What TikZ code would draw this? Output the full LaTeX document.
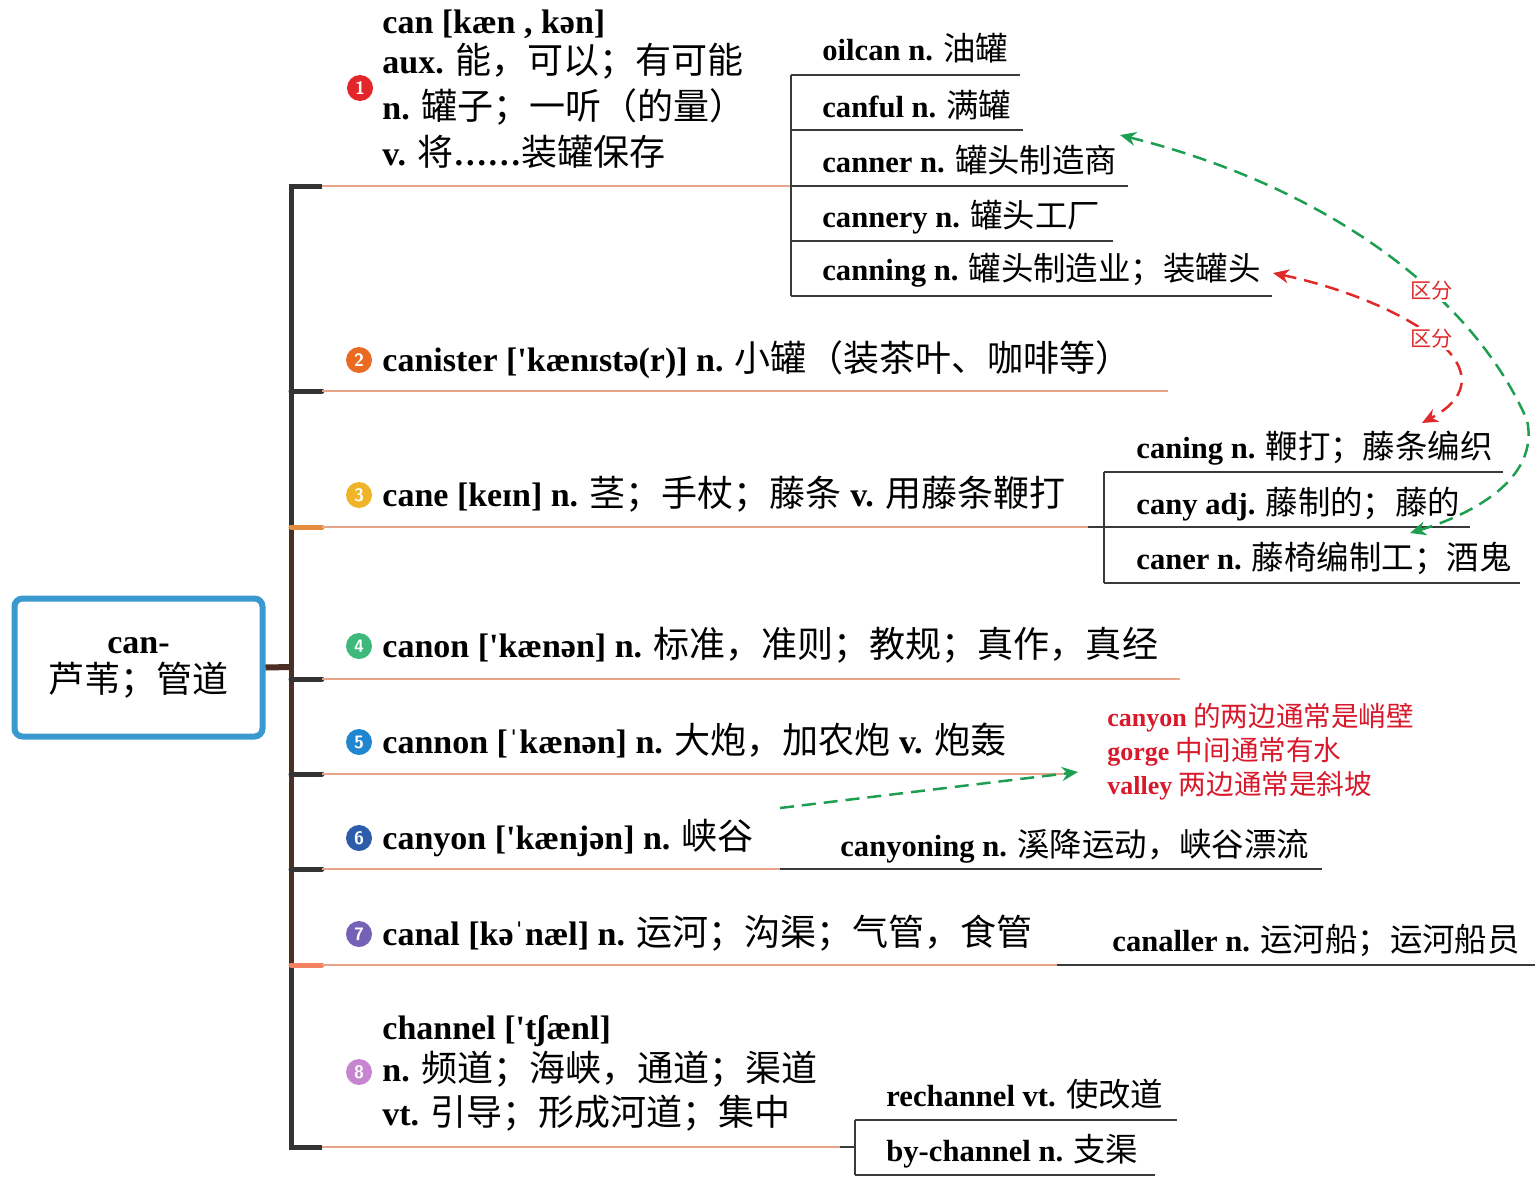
\documentclass[tikz,border=0pt]{standalone}
\usepackage{fontspec}
\setmainfont{Liberation Serif}[Ligatures=TeXOff]
\newfontfamily\cjk{Noto Sans CJK SC}[Scale=1.06]
\usetikzlibrary{arrows.meta}

\newcommand\zh[1]{{\cjk #1}}

\definecolor{trunkgray}{HTML}{333333}
\definecolor{trunkbrown}{HTML}{4B2E24}
\definecolor{twigsalmon}{HTML}{E8A58C}
\definecolor{subgray}{HTML}{3A3A3A}
\definecolor{boxblue}{HTML}{3A9AD0}
\definecolor{notered}{HTML}{D7192B}
\definecolor{linkgreen}{HTML}{1E9E50}
\definecolor{linkred}{HTML}{E02A2A}
\definecolor{bOne}{HTML}{E3262A}
\definecolor{bTwo}{HTML}{EA6A22}
\definecolor{bThree}{HTML}{F0B429}
\definecolor{bFour}{HTML}{3DB97C}
\definecolor{bFive}{HTML}{1F86CF}
\definecolor{bSix}{HTML}{2D5DAA}
\definecolor{bSeven}{HTML}{7561B5}
\definecolor{bEight}{HTML}{C685CF}
\definecolor{stubThree}{HTML}{E58C3C}
\definecolor{stubSeven}{HTML}{F28262}

\begin{document}
\begin{tikzpicture}[x=0.5pt,y=-0.5pt,
    entry/.style={anchor=base west,inner sep=0pt,font=\fontsize{17}{20}\selectfont},
    subentry/.style={anchor=base west,inner sep=0pt,font=\fontsize{15.3}{18}\selectfont},
    note/.style={anchor=base west,inner sep=0pt,text=notered,font=\fontsize{13}{16}\selectfont},
    badge/.style={circle,fill=#1,text=white,inner sep=0pt,minimum size=13pt,
        font=\fontsize{9}{9}\selectfont\sffamily\bfseries},
    trunk/.style={line width=2.5pt,draw=#1},
    stub/.style={line width=2.5pt,draw=#1,line cap=round},
    twig/.style={line width=0.9pt,draw=twigsalmon},
    subline/.style={line width=0.9pt,draw=subgray},
    hint/.style={draw=#1,dash pattern=on 7pt off 4pt,line width=1.25pt},
    pair/.style={fill=white,inner sep=1pt,text=linkred,font=\fontsize{10}{10}\selectfont\cjk}]

    \useasboundingbox (0,0) rectangle (1536,1183);

    % racine
    \node[draw=boxblue,line width=3pt,rounded corners=4pt,minimum width=124pt,
          minimum height=69pt,align=center,font=\fontsize{17}{19.5}\selectfont]
        (root) at (138.5,667.5) {\textbf{can-}\\\zh{芦苇；管道}};

    % tronc
    \foreach \n/\y in {1/186,2/391,3/527,4/679,5/774,6/869,7/965,8/1147}{
        \coordinate (t\n) at (291,\y);
        \coordinate (s\n) at (322,\y);
    }
    \coordinate (tr) at (291,667);
    \draw[trunk=trunkgray,line join=miter] (s1) -- (t1) -- (t8) -- (s8);
    \draw[trunk=trunkbrown] (t3) -- (t7);
    \draw[line width=3pt,draw=trunkbrown] (root.east) -- (tr);

    \draw[stub=trunkgray] (t2) -- (s2);
    \draw[stub=stubThree] (t3) -- (s3);
    \draw[stub=trunkgray] (t4) -- (s4);
    \draw[stub=trunkgray] (t5) -- (s5);
    \draw[stub=trunkgray] (t6) -- (s6);
    \draw[stub=stubSeven] (t7) -- (s7);

    % branches
    \coordinate (e1) at (791,186);
    \coordinate (e2) at (1168,391);
    \coordinate (e3) at (1088,527);
    \coordinate (e4) at (1180,679);
    \coordinate (e5) at (1072,774);
    \coordinate (e6) at (780,869);
    \coordinate (e7) at (1057,965);
    \coordinate (e8) at (840,1147);
    \foreach \n in {1,...,8}{\draw[twig] (s\n) -- (e\n);}

    % 1 can
    \node[badge=bOne] (n1) at (360,88) {1};
    \node[entry] (can-a) at (382,33) {\textbf{can [kæn , kən]}};
    \node[entry] (can-b) at (382,73) {\textbf{aux.} \zh{能，可以；有可能}};
    \node[entry] (can-c) at (382,119) {\textbf{n.} \zh{罐子；一听（的量）}};
    \node[entry] (can-d) at (382,165) {\textbf{v.} \zh{将}\textbf{……}\zh{装罐保存}};

    \node[subentry] (oilcan) at (822,61) {\textbf{oilcan n.} \zh{油罐}};
    \node[subentry] (canful) at (822,117) {\textbf{canful n.} \zh{满罐}};
    \node[subentry] (canner) at (822,172) {\textbf{canner n.} \zh{罐头制造商}};
    \node[subentry] (cannery) at (822,227) {\textbf{cannery n.} \zh{罐头工厂}};
    \node[subentry] (canning) at (822,280) {\textbf{canning n.} \zh{罐头制造业；装罐头}};
    \draw[subline] (791,75) -- (791,296);
    \draw[subline] (791,75) -- (1020,75);
    \draw[subline] (791,130) -- (1023,130);
    \draw[subline] (e1) -- (1128,186);
    \draw[subline] (791,241) -- (1113,241);
    \draw[subline] (791,296) -- (1272,296);

    % 2 canister
    \node[badge=bTwo] (n2) at (359,360) {2};
    \node[entry] (canister) at (382,371) {\textbf{canister ['kænɪstə(r)] n.} \zh{小罐（装茶叶、咖啡等）}};

    % 3 cane
    \node[badge=bThree] (n3) at (359,495) {3};
    \node[entry] (cane) at (382,506) {\textbf{cane [keɪn] n.} \zh{茎；手杖；藤条} \textbf{v.} \zh{用藤条鞭打}};
    \node[subentry] (caning) at (1136,458) {\textbf{caning n.} \zh{鞭打；藤条编织}};
    \node[subentry] (cany) at (1136,514) {\textbf{cany adj.} \zh{藤制的；藤的}};
    \node[subentry] (caner) at (1136,569) {\textbf{caner n.} \zh{藤椅编制工；酒鬼}};
    \draw[subline] (1104,472) -- (1104,583);
    \draw[subline] (1104,472) -- (1503,472);
    \draw[subline] (e3) -- (1470,527);
    \draw[subline] (1104,583) -- (1520,583);

    % 4 canon
    \node[badge=bFour] (n4) at (359,646) {4};
    \node[entry] (canon) at (382,657) {\textbf{canon ['kænən] n.} \zh{标准，准则；教规；真作，真经}};

    % 5 cannon
    \node[badge=bFive] (n5) at (359,742) {5};
    \node[entry] (cannon) at (382,753) {\textbf{cannon [ˈkænən] n.} \zh{大炮，加农炮} \textbf{v.} \zh{炮轰}};

    % 6 canyon
    \node[badge=bSix] (n6) at (359,838) {6};
    \node[entry] (canyon) at (382,849) {\textbf{canyon ['kænjən] n.} \zh{峡谷}};
    \node[subentry] (canyoning) at (840,856) {\textbf{canyoning n.} \zh{溪降运动，峡谷漂流}};
    \draw[subline] (e6) -- (1322,869);
    \node[note] (note-a) at (1107,726) {\textbf{canyon} \zh{的两边通常是峭壁}};
    \node[note] (note-b) at (1107,760) {\textbf{gorge} \zh{中间通常有水}};
    \node[note] (note-c) at (1107,794) {\textbf{valley} \zh{两边通常是斜坡}};

    % 7 canal
    \node[badge=bSeven] (n7) at (359,934) {7};
    \node[entry] (canal) at (382,945) {\textbf{canal [kəˈnæl] n.} \zh{运河；沟渠；气管，食管}};
    \node[subentry] (canaller) at (1112,951) {\textbf{canaller n.} \zh{运河船；运河船员}};
    \draw[subline] (e7) -- (1535,965);

    % 8 channel
    \node[badge=bEight] (n8) at (359,1072) {8};
    \node[entry] (channel-a) at (382,1039) {\textbf{channel ['tʃænl]}};
    \node[entry] (channel-b) at (382,1081) {\textbf{n.} \zh{频道；海峡，通道；渠道}};
    \node[entry] (channel-c) at (382,1125) {\textbf{vt.} \zh{引导；形成河道；集中}};
    \node[subentry] (rechannel) at (886,1106) {\textbf{rechannel vt.} \zh{使改道}};
    \node[subentry] (bychannel) at (886,1161) {\textbf{by-channel n.} \zh{支渠}};
    \draw[subline] (e8) -- (855,1147);
    \draw[subline] (855,1120) -- (855,1175);
    \draw[subline] (855,1120) -- (1177,1120);
    \draw[subline] (855,1175) -- (1155,1175);

    % renvois
    \coordinate (canyon-tail) at (780,808);
    \coordinate (note-head) at (1078,772);
    \coordinate (canning-tip) at (1273,273);
    \coordinate (caning-tip) at (1422,423);
    \coordinate (canner-tip) at (1120,135);
    \coordinate (cany-tip) at (1410,533);

    \draw[hint=linkgreen,-{Stealth[length=8pt,width=7pt]}] (canyon-tail) -- (note-head);
    \draw[hint=linkgreen,{Stealth[length=8pt,width=7pt]}-{Stealth[length=8pt,width=7pt]}]
        (canner-tip) .. controls (1320,185) and (1470,290) .. (1527,420)
        node[pair,pos=0.64] (diff-a) {区分}
        .. controls (1540,480) and (1470,515) .. (cany-tip);
    \draw[hint=linkred,{Stealth[length=8pt,width=7pt]}-{Stealth[length=8pt,width=7pt]}]
        (canning-tip) .. controls (1400,300) and (1520,370) .. (caning-tip)
        node[pair,pos=0.5] (diff-b) {区分};
\end{tikzpicture}
\end{document}
